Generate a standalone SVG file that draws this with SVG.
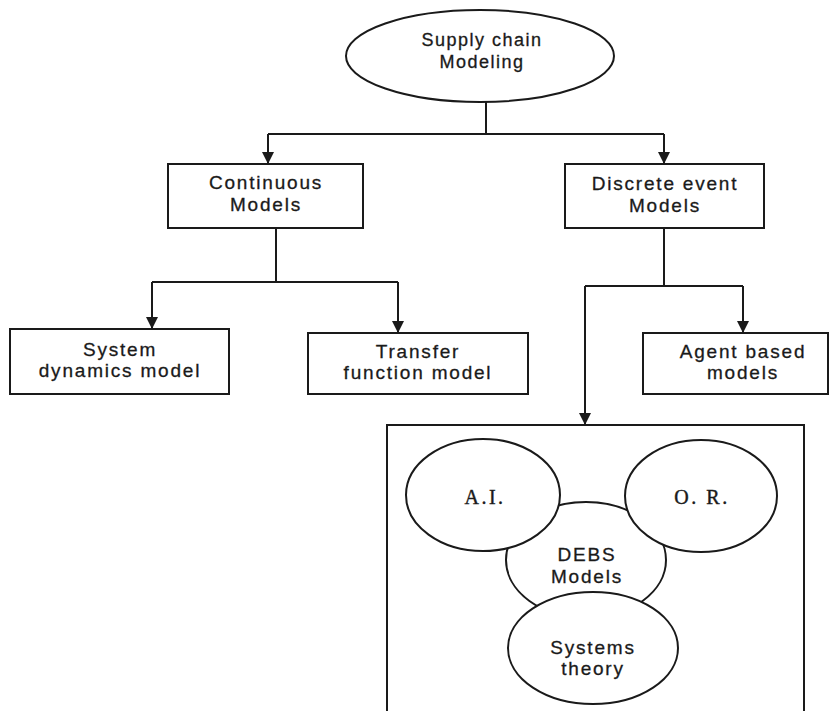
<svg xmlns="http://www.w3.org/2000/svg" width="834" height="711" viewBox="0 0 834 711">
<style>
.sh{fill:#fff;stroke:#1a1a1a;stroke-width:2}
.ln{fill:none;stroke:#1a1a1a;stroke-width:2}
.t{font-family:"Liberation Sans",Arial,sans-serif;font-size:19px;letter-spacing:1.8px;fill:#1a1a1a;stroke:#1a1a1a;stroke-width:0.3;text-anchor:middle}
.s{font-family:"Liberation Serif","Times New Roman",serif;font-size:20px;letter-spacing:2.5px;fill:#1a1a1a;stroke:#1a1a1a;stroke-width:0.4;text-anchor:middle}
</style>
<defs>
<marker id="ah" markerUnits="userSpaceOnUse" markerWidth="12" markerHeight="12" refX="12" refY="6" orient="auto">
<path d="M0,0 L12,6 L0,12 z" fill="#1a1a1a"/>
</marker>
</defs>
<rect width="834" height="711" fill="#fff"/>
<g id="connectors">
<path class="ln" d="M486,102 V134"/>
<path class="ln" d="M268,134 H664"/>
<path class="ln" d="M268,134 V164" marker-end="url(#ah)"/>
<path class="ln" d="M664,134 V164" marker-end="url(#ah)"/>
<path class="ln" d="M276,228 V282"/>
<path class="ln" d="M152,282 H398"/>
<path class="ln" d="M152,282 V329" marker-end="url(#ah)"/>
<path class="ln" d="M398,282 V333" marker-end="url(#ah)"/>
<path class="ln" d="M664,228 V286"/>
<path class="ln" d="M585,286 H743"/>
<path class="ln" d="M743,286 V333" marker-end="url(#ah)"/>
<path class="ln" d="M585,286 V425" marker-end="url(#ah)"/>
</g>
<g id="supply-chain">
<ellipse class="sh" cx="480" cy="56" rx="134" ry="46"/>
<text class="t" x="482" y="46" style="font-size:18px;letter-spacing:1.5px">Supply chain</text>
<text class="t" x="482" y="68" style="font-size:18px;letter-spacing:1.5px">Modeling</text>
</g>
<g id="continuous">
<rect class="sh" x="168" y="164" width="195" height="64"/>
<text class="t" x="266" y="189">Continuous</text>
<text class="t" x="266" y="211">Models</text>
</g>
<g id="discrete">
<rect class="sh" x="565" y="164" width="199" height="64"/>
<text class="t" x="665" y="190">Discrete event</text>
<text class="t" x="665" y="212">Models</text>
</g>
<g id="system-dynamics">
<rect class="sh" x="10" y="329" width="219" height="65"/>
<text class="t" x="120" y="356">System</text>
<text class="t" x="120" y="377">dynamics model</text>
</g>
<g id="transfer">
<rect class="sh" x="308" y="333" width="220" height="61"/>
<text class="t" x="418" y="358">Transfer</text>
<text class="t" x="418" y="379">function model</text>
</g>
<g id="agent">
<rect class="sh" x="643" y="333" width="185" height="61"/>
<text class="t" x="743" y="358">Agent based</text>
<text class="t" x="743" y="379">models</text>
</g>
<g id="debs-frame">
<rect class="sh" x="387" y="425" width="417" height="300"/>
</g>
<g id="debs">
<ellipse class="sh" cx="586" cy="560" rx="80" ry="58"/>
<text class="t" x="587" y="561">DEBS</text>
<text class="t" x="587" y="583">Models</text>
</g>
<g id="ai">
<ellipse class="sh" cx="483" cy="495" rx="77" ry="56"/>
<text class="s" x="485" y="504">A.I.</text>
</g>
<g id="or">
<ellipse class="sh" cx="701" cy="496" rx="76" ry="56"/>
<text class="s" x="702" y="504">O. R.</text>
</g>
<g id="systems-theory">
<ellipse class="sh" cx="593" cy="648" rx="85" ry="56"/>
<text class="t" x="593" y="654">Systems</text>
<text class="t" x="593" y="675">theory</text>
</g>
</svg>
